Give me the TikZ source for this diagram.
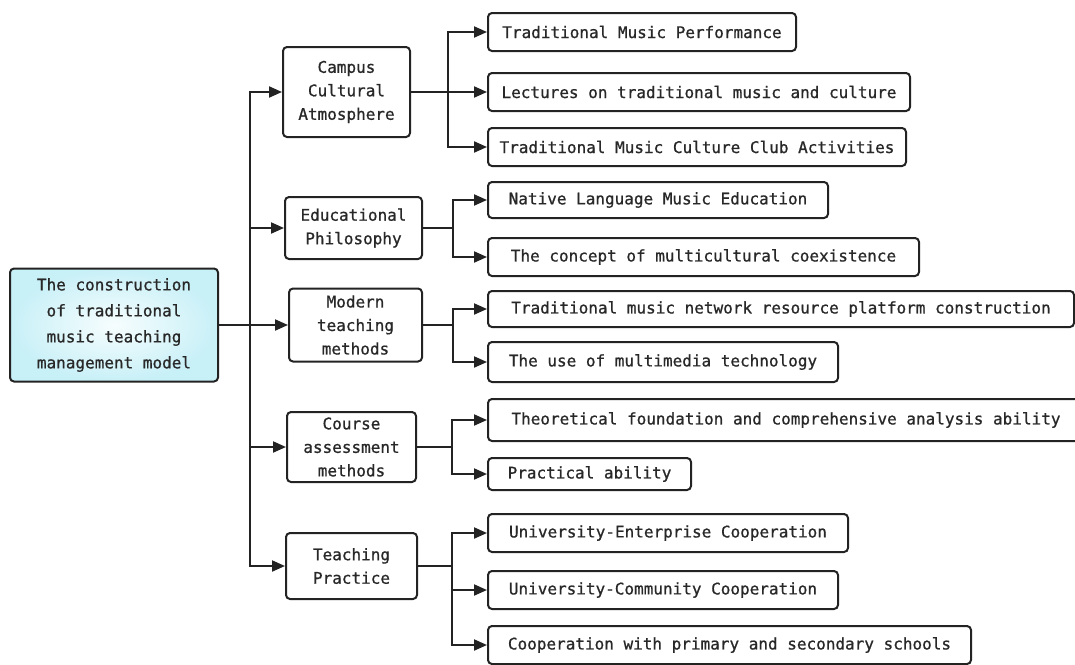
\documentclass[tikz,border=0pt]{standalone}
\usepackage{fontspec}
\setmonofont{DejaVu Sans Mono}[FakeBold=0.8]
\usetikzlibrary{arrows.meta}
\definecolor{ln}{RGB}{35,35,35}
\definecolor{tx}{RGB}{40,40,40}
\definecolor{rin}{RGB}{246,253,254}
\definecolor{rout}{RGB}{200,240,247}
\begin{document}
\begin{tikzpicture}[x=1pt,y=-1pt,
  box/.style={draw=ln, line width=2pt, rounded corners=4pt,
    font=\ttfamily\fontsize{16}{23.5}\selectfont, text=tx, align=center, inner sep=0pt},
  midbox/.style={box},
  leaf/.style={box, anchor=west, minimum height=38pt},
  link/.style={draw=ln, line width=2pt},
  arr/.style={link, -{Triangle[length=13pt,width=11pt]}},
]
\useasboundingbox (0,0) rectangle (1075,664);
\clip (0,0) rectangle (1075,664);
\fill[white] (0,0) rectangle (1075,664);

% root
\node[box, minimum width=208pt, minimum height=113pt, shading=radial,
      inner color=rin, outer color=rout, font=\ttfamily\fontsize{16}{26}\selectfont]
  (root) at (114,325) {The construction\\of traditional\\music teaching\\management model};

% middle level
\node[midbox, minimum width=127pt, minimum height=90pt] (campus) at (346.5,92) {Campus\\Cultural\\Atmosphere};
\node[midbox, minimum width=137pt, minimum height=62pt] (edu) at (353.5,228) {Educational\\Philosophy};
\node[midbox, minimum width=133pt, minimum height=73pt] (modern) at (355.5,325) {Modern\\teaching\\methods};
\node[midbox, minimum width=129pt, minimum height=70pt] (course) at (351.5,447) {Course\\assessment\\methods};
\node[midbox, minimum width=131pt, minimum height=66pt] (teach) at (351.5,566) {Teaching\\Practice};

% leaves
\node[leaf, minimum width=308pt] (l1) at (487,32) {Traditional Music Performance};
\node[leaf, minimum width=422pt] (l2) at (487,92) {Lectures on traditional music and culture};
\node[leaf, minimum width=418pt] (l3) at (487,147) {Traditional Music Culture Club Activities};
\node[leaf, minimum width=340pt, minimum height=36pt] (l4) at (487,200) {Native Language Music Education};
\node[leaf, minimum width=431pt] (l5) at (487,257) {The concept of multicultural coexistence};
\node[leaf, minimum width=586pt, minimum height=36pt] (l6) at (487,309) {Traditional music network resource platform construction};
\node[leaf, minimum width=350pt, minimum height=40pt] (l7) at (487,362) {The use of multimedia technology};
\node[leaf, minimum width=596pt, minimum height=42pt] (l8) at (487,420) {Theoretical foundation and comprehensive analysis ability};
\node[leaf, minimum width=203pt, minimum height=32pt] (l9) at (487,474) {Practical ability};
\node[leaf, minimum width=360pt] (l10) at (487,533) {University-Enterprise Cooperation};
\node[leaf, minimum width=350pt] (l11) at (487,590) {University-Community Cooperation};
\node[leaf, minimum width=483pt] (l12) at (487,645) {Cooperation with primary and secondary schools};

% trunk
\coordinate (t) at (250,325);
\draw[arr] (root.east) -- (modern.west);
\draw[arr] (t) |- (campus.west);
\draw[arr] (t) |- (edu.west);
\draw[arr] (t) |- (course.west);
\draw[arr] (t) |- (teach.west);

% branches
\coordinate (bc) at (448,92);
\draw[arr] (campus.east) -- (l2.west);
\draw[arr] (bc) |- (l1.west);
\draw[arr] (bc) |- (l3.west);

\coordinate (be) at (453,228);
\draw[link] (edu.east) -- (be);
\draw[arr] (be) |- (l4.west);
\draw[arr] (be) |- (l5.west);

\coordinate (bm) at (453,325);
\draw[link] (modern.east) -- (bm);
\draw[arr] (bm) |- (l6.west);
\draw[arr] (bm) |- (l7.west);

\coordinate (bk) at (452,447);
\draw[link] (course.east) -- (bk);
\draw[arr] (bk) |- (l8.west);
\draw[arr] (bk) |- (l9.west);

\coordinate (bt) at (452,566);
\draw[link] (teach.east) -- (bt);
\draw[arr] (bt) |- (l10.west);
\draw[arr] (bt) |- (l11.west);
\draw[arr] (bt) |- (l12.west);
\end{tikzpicture}
\end{document}
